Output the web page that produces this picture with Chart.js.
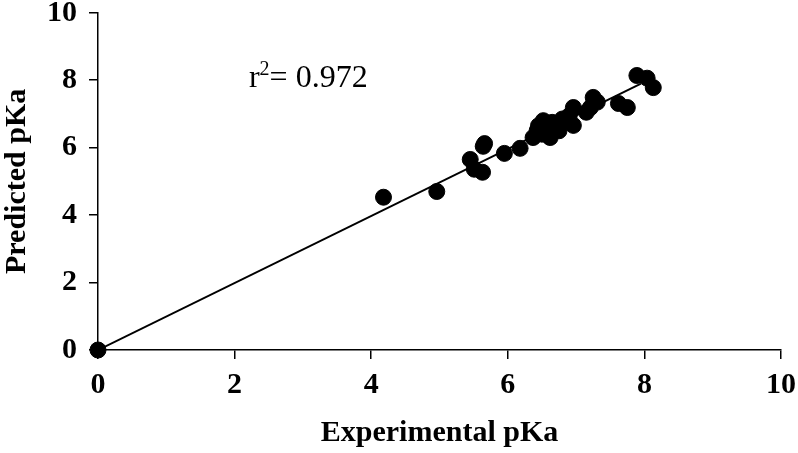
<!DOCTYPE html>
<html>
<head>
<meta charset="utf-8">
<script src="https://cdn.jsdelivr.net/npm/chart.js@4/dist/chart.umd.min.js"></script>
<style>
  html, body { margin: 0; padding: 0; background: #fff; }
  #wrap { width: 798px; height: 453px; }
</style>
</head>
<body>
<div id="wrap"><canvas id="myChart"></canvas></div>
<script>
// experimental vs predicted pKa
const experimental = [0, 4.18, 4.96, 5.45, 5.51, 5.64, 5.66, 5.63, 5.95, 6.18, 6.37, 6.43, 6.45, 6.50, 6.52, 6.55, 6.60, 6.62, 6.65, 6.70, 6.75, 6.80, 6.90, 6.96, 6.96, 7.15, 7.21, 7.25, 7.31, 7.62, 7.75, 7.89, 8.04, 8.13];
const predicted    = [0, 4.53, 4.70, 5.65, 5.36, 6.04, 6.12, 5.27, 5.83, 5.98, 6.30, 6.51, 6.65, 6.40, 6.80, 6.70, 6.35, 6.30, 6.75, 6.62, 6.50, 6.85, 6.95, 7.19, 6.66, 7.05, 7.19, 7.49, 7.35, 7.31, 7.19, 8.14, 8.06, 7.78];
const fitX = [0, 7.95];
const fitY = [0, 7.9];
const tickValues = [0, 2, 4, 6, 8, 10];
const r2Label = '0.972';

const points = experimental.map((x, i) => ({ x: x, y: predicted[i] }));
const fitLine = fitX.map((x, i) => ({ x: x, y: fitY[i] }));

const r2Plugin = {
    id: 'r2Text',
    afterDraw(chart) {
        const c = chart.ctx;
        const xs = chart.scales.x, ys = chart.scales.y;
        const px = xs.getPixelForValue(2.21);
        const py = ys.getPixelForValue(7.8);
        c.save();
        c.fillStyle = '#000';
        c.textBaseline = 'alphabetic';
        c.font = '32px "Liberation Serif"';
        c.fillText('r', px, py);
        let w = c.measureText('r').width;
        c.font = '20px "Liberation Serif"';
        c.fillText('2', px + w, py - 12);
        w += c.measureText('2').width;
        c.font = '32px "Liberation Serif"';
        c.fillText('= ' + r2Label, px + w, py);
        c.restore();
    }
};

const ctx = document.getElementById('myChart').getContext('2d');
const myChart = new Chart(ctx, {
    type: 'scatter',
    data: {
        datasets: [
            {
                data: points,
                backgroundColor: '#000',
                borderColor: '#000',
                pointRadius: 8,
                pointHoverRadius: 8,
                clip: false
            },
            {
                type: 'line',
                data: fitLine,
                borderColor: '#000',
                borderWidth: 2,
                pointRadius: 0,
                fill: false
            }
        ]
    },
    options: {
        responsive: true,
        maintainAspectRatio: false,
        animation: false,
        layout: { padding: { top: 0, right: 0, left: -1, bottom: 2 } },
        plugins: { legend: { display: false }, tooltip: { enabled: false } },
        scales: {
            x: {
                type: 'linear',
                min: 0, max: 10,
                afterBuildTicks: s => { s.ticks = tickValues.map(v => ({ value: v })); },
                border: { display: true, color: '#000', width: 1.5 },
                grid: { drawOnChartArea: false, drawTicks: true, tickLength: 9, color: '#000', lineWidth: 1.5 },
                ticks: { color: '#000', padding: 2, maxRotation: 0, font: { family: 'Liberation Serif', size: 30, weight: 'bold', lineHeight: 1.6 } },
                title: { display: true, text: 'Experimental pKa', color: '#000', padding: { top: 4, bottom: 0 }, font: { family: 'Liberation Serif', size: 30, weight: 'bold' } }
            },
            y: {
                type: 'linear',
                min: 0, max: 10,
                afterBuildTicks: s => { s.ticks = tickValues.map(v => ({ value: v })); },
                border: { display: true, color: '#000', width: 1.5 },
                grid: { drawOnChartArea: false, drawTicks: true, tickLength: 9, color: '#000', lineWidth: 1.5 },
                ticks: { color: '#000', padding: 12, font: { family: 'Liberation Serif', size: 30, weight: 'bold', lineHeight: 0.05 } },
                title: { display: true, text: 'Predicted pKa', color: '#000', padding: { top: 0, bottom: 0 }, font: { family: 'Liberation Serif', size: 30, weight: 'bold' } }
            }
        }
    },
    plugins: [r2Plugin]
});
</script>
</body>
</html>
